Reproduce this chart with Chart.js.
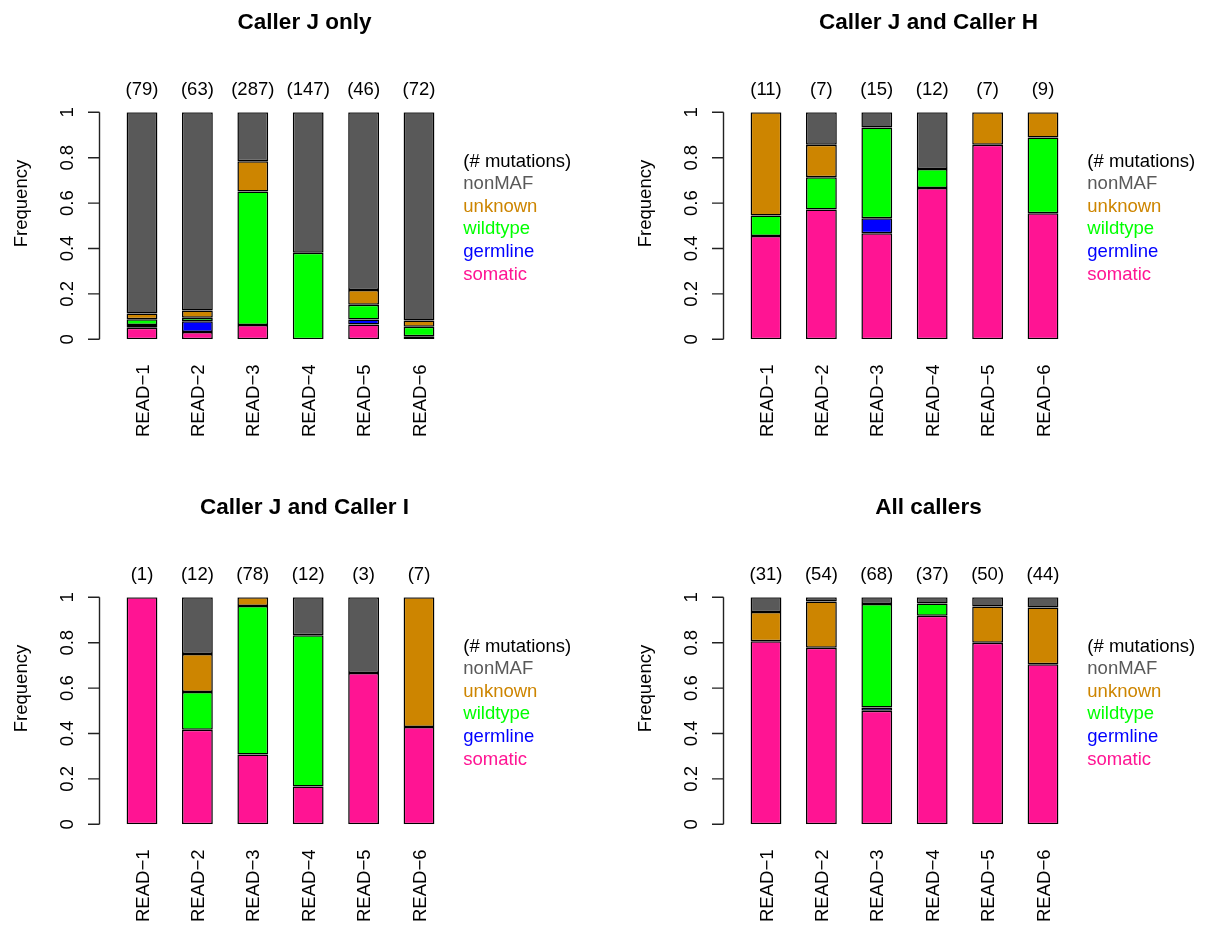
<!DOCTYPE html>
<html>
<head>
<meta charset="utf-8">
<title>Mutation classes by caller set</title>
<script src="https://cdn.jsdelivr.net/npm/chart.js@4/dist/chart.umd.min.js"></script>
<style>
  html, body { margin: 0; padding: 0; background: #fff; }
  body { position: relative; width: 1206px; height: 926px; overflow: hidden; }
  canvas { position: absolute; }
</style>
</head>
<body>
<canvas id="p1" width="582" height="441" style="left:0;top:0"></canvas>
<canvas id="p2" width="582" height="441" style="left:624px;top:0"></canvas>
<canvas id="p3" width="582" height="441" style="left:0;top:485px"></canvas>
<canvas id="p4" width="582" height="441" style="left:624px;top:485px"></canvas>
<script>
// --- DATA ---
const samples = ['READ\u22121', 'READ\u22122', 'READ\u22123', 'READ\u22124', 'READ\u22125', 'READ\u22126'];
const classes = ['somatic', 'germline', 'wildtype', 'unknown', 'nonMAF'];
const classColors = ['#FF1493', '#0000FF', '#00FF00', '#CD8500', '#595959'];
const yTickValues = [0, 0.2, 0.4, 0.6, 0.8, 1];
const yTickLabels = ['0', '0.2', '0.4', '0.6', '0.8', '1'];

// mutation counts per sample, one row per class (somatic, germline, wildtype, unknown, nonMAF)
const callerJOnly = [
    [4, 2, 18, 0, 3, 1],
    [1, 3, 0, 0, 1, 0],
    [2, 1, 169, 56, 3, 3],
    [2, 2, 38, 0, 3, 2],
    [70, 55, 62, 91, 36, 66]
];
const callerJandH = [
    [5, 4, 7, 8, 6, 5],
    [0, 0, 1, 0, 0, 0],
    [1, 1, 6, 1, 0, 3],
    [5, 1, 0, 0, 1, 1],
    [0, 1, 1, 3, 0, 0]
];
const callerJandI = [
    [1, 5, 24, 2, 2, 3],
    [0, 0, 0, 0, 0, 0],
    [0, 2, 51, 8, 0, 0],
    [0, 2, 3, 0, 0, 4],
    [0, 3, 0, 2, 1, 0]
];
const allCallers = [
    [25, 42, 34, 34, 40, 31],
    [0, 0, 1, 0, 0, 0],
    [0, 0, 31, 2, 0, 0],
    [4, 11, 0, 0, 8, 11],
    [2, 1, 2, 1, 2, 2]
];

const FONT = '"Liberation Sans", Arial, Helvetica, sans-serif';

// --- DECORATIONS (axis, titles, labels, text legend) ---
const decorPlugin = {
    id: 'decor',
    afterDraw(chart) {
        const ctx = chart.ctx;
        const area = chart.chartArea;
        const xs = chart.scales.x;
        const ys = chart.scales.y;
        const opts = chart.options.plugins.decor;
        const axisX = area.left - 14.8;

        ctx.save();
        ctx.fillStyle = '#000';
        ctx.strokeStyle = '#222';
        ctx.lineWidth = 1.4;

        // y axis line + ticks
        ctx.beginPath();
        ctx.moveTo(axisX, ys.getPixelForValue(0));
        ctx.lineTo(axisX, ys.getPixelForValue(1));
        yTickValues.forEach(v => {
            const py = ys.getPixelForValue(v);
            ctx.moveTo(axisX, py);
            ctx.lineTo(axisX - 11.5, py);
        });
        ctx.stroke();

        // y tick labels, rotated like the axis
        ctx.font = '18.5px ' + FONT;
        ctx.textBaseline = 'alphabetic';
        ctx.textAlign = 'center';
        yTickValues.forEach((v, i) => {
            ctx.save();
            ctx.translate(axisX - 26.9, ys.getPixelForValue(v));
            ctx.rotate(-Math.PI / 2);
            ctx.fillText(yTickLabels[i], 0, 0);
            ctx.restore();
        });

        // y axis title
        ctx.save();
        ctx.translate(26.5, 203.5);
        ctx.rotate(-Math.PI / 2);
        ctx.fillText('Frequency', 0, 0);
        ctx.restore();

        // sample names under the bars
        ctx.textAlign = 'right';
        samples.forEach((s, i) => {
            ctx.save();
            ctx.translate(xs.getPixelForValue(i) + 6.6, area.bottom + 25.2);
            ctx.rotate(-Math.PI / 2);
            ctx.fillText(s, 0, 0);
            ctx.restore();
        });

        // totals above the bars
        ctx.textAlign = 'center';
        opts.totals.forEach((n, i) => {
            ctx.fillText('(' + n + ')', xs.getPixelForValue(i), area.top - 17.3);
        });

        // panel title
        ctx.font = 'bold 22.5px ' + FONT;
        ctx.fillText(opts.title, 304.5, 28.5);

        // text legend, top class first
        ctx.font = '18.5px ' + FONT;
        ctx.textAlign = 'left';
        const lx = area.right + 16.6;
        ctx.fillText('(# mutations)', lx, 166.5);
        for (let k = classes.length - 1, row = 1; k >= 0; k--, row++) {
            ctx.fillStyle = classColors[k];
            ctx.fillText(classes[k], lx, 166.5 + 22.6 * row);
        }
        ctx.restore();
    }
};

function makePanel(canvasId, title, counts) {
    const totals = samples.map((_, i) => counts.reduce((s, row) => s + row[i], 0));
    const datasets = classes.map((name, k) => ({
        label: name,
        data: counts[k].map((c, i) => c / totals[i]),
        backgroundColor: classColors[k],
        borderColor: '#000',
        borderWidth: 1.5,
        borderSkipped: false,
        barPercentage: 0.556,
        categoryPercentage: 1
    }));

    return new Chart(document.getElementById(canvasId), {
        type: 'bar',
        data: { labels: samples, datasets },
        options: {
            responsive: false,
            animation: false,
            devicePixelRatio: 1,
            layout: { padding: { left: 114.3, right: 135.3, top: 112.3, bottom: 101.7 } },
            scales: {
                x: { type: 'category', stacked: true, display: false, offset: true },
                y: { stacked: true, display: false, min: 0, max: 1 }
            },
            plugins: {
                legend: { display: false },
                tooltip: { enabled: false },
                decor: { title, totals }
            }
        },
        plugins: [decorPlugin]
    });
}

// --- INITIALIZE ---
makePanel('p1', 'Caller J only', callerJOnly);
makePanel('p2', 'Caller J and Caller H', callerJandH);
makePanel('p3', 'Caller J and Caller I', callerJandI);
makePanel('p4', 'All callers', allCallers);
</script>
</body>
</html>
